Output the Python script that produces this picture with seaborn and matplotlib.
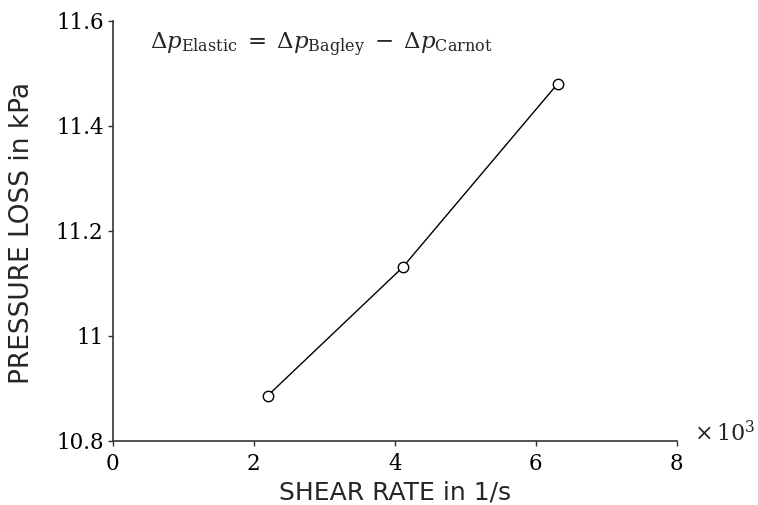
import matplotlib
matplotlib.use("Agg")
import matplotlib.pyplot as plt
import seaborn as sns
import pandas as pd
from matplotlib.ticker import FuncFormatter

shear_rate = [2.20, 4.11, 6.31]          # x 10^3 1/s
pressure_loss = [10.886, 11.13, 11.48]   # kPa
x_ticks = [0, 2, 4, 6, 8]
y_ticks = [10.8, 11.0, 11.2, 11.4, 11.6]

sns.set_style("white")
plt.rcParams['mathtext.fontset'] = 'dejavuserif'

df = pd.DataFrame({"x": shear_rate, "y": pressure_loss})

fig = plt.figure(figsize=(7.58, 5.05), dpi=100)
ax = fig.add_axes([0.1486, 0.1273, 0.893 - 0.1486, 0.959 - 0.1273])
sns.lineplot(data=df, x="x", y="y", ax=ax, color="black", linewidth=1.0,
             marker="o", markersize=7.5, markerfacecolor="white",
             markeredgecolor="black", markeredgewidth=1.0)

ax.set_xlim(0, 8)
ax.set_ylim(10.8, 11.6)
ax.set_xticks(x_ticks)
ax.set_yticks(y_ticks)
ax.yaxis.set_major_formatter(FuncFormatter(lambda v, p: f"{v:g}"))
for s in ["top", "right"]:
    ax.spines[s].set_visible(False)
for s in ["left", "bottom"]:
    ax.spines[s].set_color("#333333")
    ax.spines[s].set_linewidth(1.2)
ax.tick_params(axis="both", which="major", direction="out", length=3.5,
               width=1.0, color="#333333", bottom=True, left=True)
ax.tick_params(axis="x", pad=5)
ax.tick_params(axis="y", pad=3)
for lab in ax.get_xticklabels() + ax.get_yticklabels():
    lab.set_fontfamily("DejaVu Serif")
    lab.set_fontsize(15.5)
    lab.set_color("black")

ax.set_xlabel("SHEAR RATE in 1/s", fontsize=18, family="DejaVu Sans")
ax.set_ylabel("PRESSURE LOSS in kPa", fontsize=19, family="DejaVu Sans")
ax.xaxis.label.set_va("center")
ax.yaxis.label.set_va("center")
ax.xaxis.set_label_coords(0.5, -0.123)
ax.yaxis.set_label_coords(-0.161, 0.494)

ax.text(0.066, 0.942,
        r"$\Delta p_{\mathrm{Elastic}} \;=\; \Delta p_{\mathrm{Bagley}} \;-\; \Delta p_{\mathrm{Carnot}}$",
        transform=ax.transAxes, fontsize=16.5, ha="left", va="center")
ax.text(1.03, 0.02, r"$\times\,10^{3}$", transform=ax.transAxes, fontsize=16,
        ha="left", va="center")

fig.savefig("out.png", dpi=100)
